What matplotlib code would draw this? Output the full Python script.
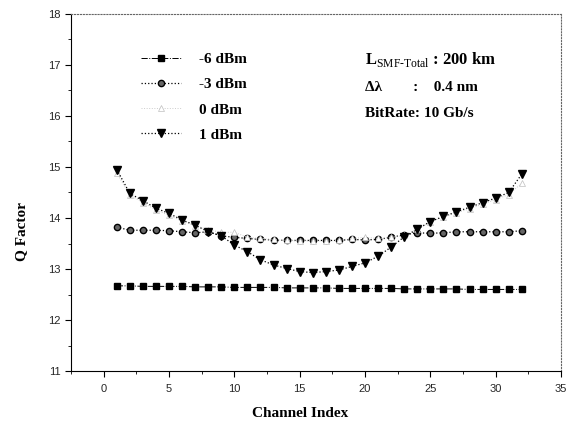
import numpy as np
import matplotlib.pyplot as plt
from matplotlib.ticker import MultipleLocator

channels = list(range(1, 33))

q_m6 = [12.67, 12.67, 12.66, 12.66, 12.66, 12.66, 12.65, 12.65, 12.65, 12.64, 12.64,
        12.64, 12.64, 12.63, 12.63, 12.63, 12.63, 12.62, 12.62, 12.62, 12.62, 12.62,
        12.61, 12.61, 12.61, 12.61, 12.61, 12.60, 12.60, 12.60, 12.60, 12.60]
q_m3 = [13.82, 13.76, 13.76, 13.76, 13.75, 13.73, 13.71, 13.73, 13.65, 13.62, 13.60,
        13.58, 13.57, 13.56, 13.56, 13.56, 13.56, 13.56, 13.58, 13.57, 13.58, 13.62,
        13.67, 13.71, 13.70, 13.71, 13.73, 13.73, 13.73, 13.73, 13.73, 13.75]
q_0 = [14.88, 14.45, 14.30, 14.16, 14.05, 13.94, 13.85, 13.77, 13.72, 13.72, 13.62,
       13.60, 13.58, 13.56, 13.55, 13.55, 13.55, 13.56, 13.60, 13.62, 13.60, 13.62,
       13.66, 13.78, 13.92, 14.02, 14.10, 14.18, 14.27, 14.36, 14.46, 14.68]
q_p1 = [14.95, 14.48, 14.34, 14.19, 14.09, 13.96, 13.86, 13.73, 13.65, 13.47, 13.34,
        13.18, 13.08, 13.01, 12.95, 12.93, 12.95, 12.98, 13.05, 13.12, 13.25, 13.43,
        13.63, 13.78, 13.93, 14.03, 14.12, 14.21, 14.30, 14.39, 14.50, 14.86]

plt.rcParams['mathtext.fontset'] = 'custom'
plt.rcParams['mathtext.rm'] = 'Liberation Serif'

fig = plt.figure(figsize=(5.73, 4.33), dpi=100)
ax = fig.add_axes([0.124, 0.143, 0.855, 0.825])

ax.plot(channels, q_m6, linestyle='-.', color='black', lw=0.7,
        marker='s', ms=4.5, mfc='black', mec='black', label='-6 dBm')
ax.plot(channels, q_m3, linestyle=':', color='black', lw=0.9,
        marker='o', ms=4.5, mfc='0.4', mec='black', label='-3 dBm')
ax.plot(channels, q_0, linestyle=':', color='0.8', lw=0.7,
        marker='^', ms=4, mfc='white', mec='0.75', mew=0.5, label='0 dBm')
ax.plot(channels, q_p1, linestyle=':', color='black', lw=0.9,
        marker='v', ms=6, mfc='black', mec='black', label='1 dBm')

ax.set_xlim(-2.5, 35)
ax.set_ylim(11, 18)
ax.xaxis.set_major_locator(MultipleLocator(5))
ax.xaxis.set_minor_locator(MultipleLocator(2.5))
ax.yaxis.set_major_locator(MultipleLocator(1))
ax.yaxis.set_minor_locator(MultipleLocator(0.5))
ax.tick_params(which='both', direction='out', top=False, right=False,
               labelsize=8, labelcolor='0.15')
ax.tick_params(which='major', length=4)
ax.tick_params(which='minor', length=2.5)
ax.tick_params(axis='x', pad=5)
for lab in ax.get_xticklabels() + ax.get_yticklabels():
    lab.set_family('Liberation Sans')

for s in ['top', 'right']:
    ax.spines[s].set_linestyle(':')
    ax.spines[s].set_color('0.4')
    ax.spines[s].set_linewidth(0.8)

serif = {'family': 'Liberation Serif', 'weight': 'bold'}
ax.set_xlabel('Channel Index', fontsize=11, **serif)
ax.set_ylabel('Q Factor', fontsize=11, **serif)
ax.xaxis.set_label_coords(0.467, -0.1)
ax.yaxis.set_label_coords(-0.088, 0.39)

leg = ax.legend(loc='upper left', bbox_to_anchor=(0.115, 0.93), frameon=False,
                handlelength=2.6, labelspacing=0.75, handletextpad=1.2,
                prop={'family': 'Liberation Serif', 'weight': 'bold', 'size': 11})

ax.text(0.6, 0.86, r'L$_{\text{SMF-Total}}$ : 200 km', transform=ax.transAxes,
        fontsize=12, **serif)
ax.text(0.6, 0.785, '\u0394\u03bb        :    0.4 nm', transform=ax.transAxes,
        fontsize=11, **serif)
ax.text(0.6, 0.71, 'BitRate: 10 Gb/s', transform=ax.transAxes,
        fontsize=11, **serif)

fig.savefig('out.png', dpi=100)
